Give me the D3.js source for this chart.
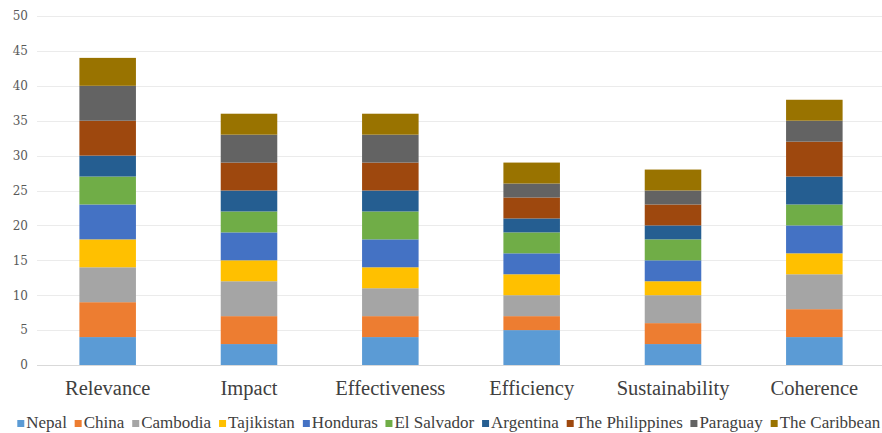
<!DOCTYPE html>
<html>
<head>
<meta charset="utf-8">
<script src="https://cdn.jsdelivr.net/npm/d3@7"></script>
<style>
  html, body { margin: 0; padding: 0; background: #ffffff; }
  svg { display: block; }
</style>
</head>
<body>
<svg id="chart" width="882" height="433"></svg>
<script>
// Evaluation criteria along the x axis
const categories = ["Relevance", "Impact", "Effectiveness", "Efficiency", "Sustainability", "Coherence"];

// Stacked series, bottom to top, one value per criterion
const seriesNames = ["Nepal", "China", "Cambodia", "Tajikistan", "Honduras", "El Salvador",
                     "Argentina", "The Philippines", "Paraguay", "The Caribbean"];
const nepal        = [4, 3, 4, 5, 3, 4];
const china        = [5, 4, 3, 2, 3, 4];
const cambodia     = [5, 5, 4, 3, 4, 5];
const tajikistan   = [4, 3, 3, 3, 2, 3];
const honduras     = [5, 4, 4, 3, 3, 4];
const elSalvador   = [4, 3, 4, 3, 3, 3];
const argentina    = [3, 3, 3, 2, 2, 4];
const philippines  = [5, 4, 4, 3, 3, 5];
const paraguay     = [5, 4, 4, 2, 2, 3];
const caribbean    = [4, 3, 3, 3, 3, 3];
const yTicks = [0, 5, 10, 15, 20, 25, 30, 35, 40, 45, 50];

const seriesValues = [nepal, china, cambodia, tajikistan, honduras, elSalvador,
                      argentina, philippines, paraguay, caribbean];
const colors = ["#5B9BD5", "#ED7D31", "#A5A5A5", "#FFC000", "#4472C4", "#70AD47",
                "#255E91", "#9E480E", "#636363", "#997300"];

const rows = categories.map((c, i) => {
  const r = { category: c };
  seriesNames.forEach((s, j) => { r[s] = seriesValues[j][i]; });
  return r;
});

const svg = d3.select("#chart");
const x = d3.scaleBand().domain(categories).range([37, 885]).paddingInner(0.6).paddingOuter(0.3);
const y = d3.scaleLinear().domain([0, 50]).range([365, 16]);

// Horizontal gridlines
svg.append("g").selectAll("line").data(yTicks).join("line")
  .attr("x1", 37).attr("x2", 882)
  .attr("y1", d => Math.round(y(d)) + 0.5).attr("y2", d => Math.round(y(d)) + 0.5)
  .attr("stroke", d => d === 0 ? "#d9d9d9" : "#ebebeb").attr("stroke-width", 1);

// Y axis labels
const yAxis = d3.axisLeft(y).tickValues(yTicks).tickSize(0).tickPadding(0);
const gy = svg.append("g").attr("transform", "translate(28,0)").call(yAxis);
gy.select(".domain").remove();
gy.selectAll("text")
  .attr("font-family", "'DejaVu Serif', serif").attr("font-size", 12)
  .attr("fill", "#595959");

// Stacked bars
const stack = d3.stack().keys(seriesNames);
const layers = stack(rows);
svg.append("g").selectAll("g").data(layers).join("g")
  .attr("fill", (d, i) => colors[i])
  .selectAll("rect").data(d => d).join("rect")
  .attr("x", d => x(d.data.category))
  .attr("width", x.bandwidth())
  .attr("y", d => y(d[1]))
  .attr("height", d => y(d[0]) - y(d[1]));

// Category labels
const xAxis = d3.axisBottom(x).tickSize(0).tickPadding(0);
const gx = svg.append("g").attr("transform", "translate(0,395)").call(xAxis);
gx.select(".domain").remove();
gx.selectAll("text")
  .attr("dy", 0)
  .attr("font-family", "'Liberation Serif', serif").attr("font-size", 20.5)
  .attr("fill", "#404040");

// Legend
const legend = svg.append("g").attr("transform", "translate(0,428)");
const items = legend.selectAll("g").data(seriesNames).join("g");
items.append("rect").attr("width", 7).attr("height", 7).attr("y", -8)
  .attr("fill", (d, i) => colors[i]);
items.append("text").attr("x", 9).attr("y", 0)
  .attr("font-family", "'Liberation Serif', serif").attr("font-size", 17)
  .attr("fill", "#404040").text(d => d);
const widths = [];
items.each(function () { widths.push(this.getBBox().width); });
const gap = 7.5;
const total = d3.sum(widths) + gap * (widths.length - 1);
let cursor = (882 - total) / 2 + 8;
items.attr("transform", (d, i) => {
  const t = `translate(${cursor},0)`;
  cursor += widths[i] + gap;
  return t;
});
</script>
</body>
</html>
